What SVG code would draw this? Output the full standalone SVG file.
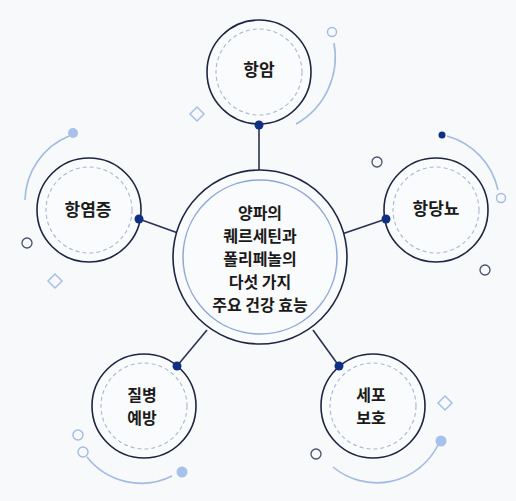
<svg xmlns="http://www.w3.org/2000/svg" width="516" height="501" viewBox="0 0 516 501">
<style>
.bg{fill:#f8f9fb}
.node{fill:#fafbfc;stroke:#1e2442;stroke-width:1.6}
.dash{fill:none;stroke:#aab6d6;stroke-width:1.1;stroke-dasharray:4 3}
.link{stroke:#2b3150;stroke-width:1.6;fill:none}
.dot{fill:#0f2f82}
.arc{fill:none;stroke:#a3bbe3;stroke-width:1.6}
.ringL{fill:none;stroke:#a3bbe3;stroke-width:1.4}
.ringD{fill:none;stroke:#4a4f72;stroke-width:1.3}
.fillL{fill:#a6c1ec}
.dia{fill:none;stroke:#a8c0e8;stroke-width:1.5}
.lbl{font-family:"Noto Sans CJK KR","Noto Sans",sans-serif;font-weight:700;fill:#1a1a1a;text-anchor:middle}
.big{font-size:16px}
.sm{font-size:17px}
.sm2{font-size:16px}
</style>
<rect class="bg" x="0" y="0" width="516" height="501"/>
<g id="decor">
<path class="arc" d="M334,43 A77,77 0 0 1 296,124"/>
<circle class="ringL" cx="332" cy="32" r="4.5"/>
<path class="arc" d="M69,136 A71,71 0 0 0 25,200"/>
<circle class="fillL" cx="73" cy="133" r="5"/>
<circle class="ringD" cx="27" cy="243" r="5"/>
<path class="dia" d="M55,274 L62,281 L55,288 L48,281 Z"/>
<path class="dia" d="M197,107 L204,114 L197,121 L190,114 Z"/>
<path class="arc" d="M447,136 A72,72 0 0 1 498,190"/>
<circle cx="442" cy="135" r="3.5" class="dot"/>
<circle class="ringL" cx="501" cy="198" r="4.5"/>
<circle class="ringD" cx="377" cy="162" r="5"/>
<circle class="ringD" cx="485" cy="270" r="5"/>
<circle class="ringL" cx="78" cy="435" r="5"/>
<circle class="ringL" cx="83" cy="452" r="5"/>
<path class="arc" d="M87,457 A69,69 0 0 0 172,476"/>
<circle class="fillL" cx="182" cy="472" r="5.5"/>
<path class="dia" d="M445,396 L452,403 L445,410 L438,403 Z"/>
<path class="arc" d="M438,445 A68.5,68.5 0 0 1 333,467"/>
<circle class="fillL" cx="441" cy="441" r="5.5"/>
<circle class="ringD" cx="316" cy="454" r="5"/>
</g>
<g id="connectors">
<line class="link" x1="259" y1="125" x2="259" y2="170"/>
<line class="link" x1="139" y1="219" x2="178" y2="233"/>
<line class="link" x1="386" y1="219" x2="342" y2="234"/>
<line class="link" x1="177" y1="366" x2="207" y2="330"/>
<line class="link" x1="339" y1="366" x2="313" y2="330"/>
</g>
<g id="center">
<circle class="node" cx="260" cy="257" r="87" stroke-width="2"/>
<circle cx="260" cy="257" r="77" fill="none" stroke="#8fa8d8" stroke-width="1.5"/>
<text class="lbl big" x="260" y="219">양파의</text>
<text class="lbl big" x="260" y="242">퀘르세틴과</text>
<text class="lbl big" x="260" y="265">폴리페놀의</text>
<text class="lbl big" x="260" y="288">다섯 가지</text>
<text class="lbl big" x="260" y="311">주요 건강 효능</text>
</g>
<g id="n-top">
<circle class="node" cx="259" cy="72" r="52"/>
<circle class="dash" cx="259" cy="72" r="43"/>
<text class="lbl sm" x="259" y="76">항암</text>
<circle class="dot" cx="259" cy="125" r="4.5"/>
</g>
<g id="n-left">
<circle class="node" cx="89" cy="210" r="52"/>
<circle class="dash" cx="89" cy="210" r="43"/>
<text class="lbl sm" x="88" y="216">항염증</text>
<circle class="dot" cx="139" cy="219" r="4.5"/>
</g>
<g id="n-right">
<circle class="node" cx="436" cy="210" r="52"/>
<circle class="dash" cx="436" cy="210" r="43"/>
<text class="lbl sm" x="436" y="215">항당뇨</text>
<circle class="dot" cx="386" cy="219" r="4.5"/>
</g>
<g id="n-bl">
<circle class="node" cx="144" cy="406" r="52"/>
<circle class="dash" cx="144" cy="406" r="43"/>
<text class="lbl sm2" x="142" y="401">질병</text>
<text class="lbl sm2" x="142" y="424">예방</text>
<circle class="dot" cx="177" cy="366" r="4.5"/>
</g>
<g id="n-br">
<circle class="node" cx="373" cy="406" r="52"/>
<circle class="dash" cx="373" cy="406" r="43"/>
<text class="lbl sm2" x="371" y="401">세포</text>
<text class="lbl sm2" x="371" y="424">보호</text>
<circle class="dot" cx="339" cy="366" r="4.5"/>
</g>
</svg>
